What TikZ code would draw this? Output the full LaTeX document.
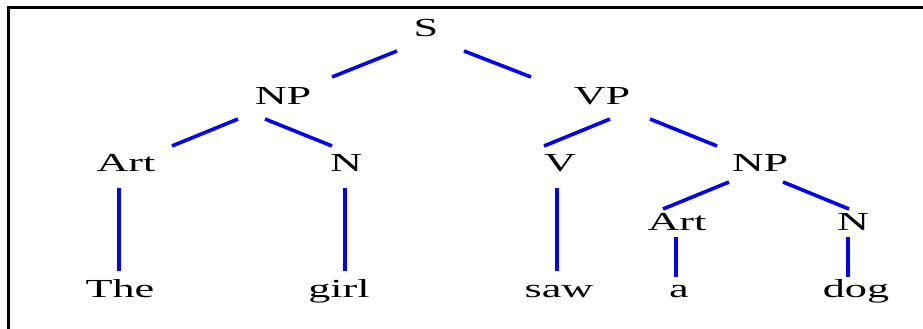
\documentclass[tikz,border=0pt]{standalone}
\usepackage{fontspec}
\setmainfont{Liberation Serif}
\usetikzlibrary{calc}
\tikzset{
  lbl/.style={anchor=base, inner sep=0pt, font=\fontsize{26}{30}\selectfont, text=black},
  edge/.style={draw={rgb,255:red,0;green,0;blue,255}, line width=3.6pt},
  vedge/.style={draw={rgb,255:red,0;green,0;blue,255}, line width=4.2pt},
  frame/.style={draw=black, line width=3pt}
}
\newcommand{\xw}[1]{\scalebox{1.7}[1]{#1}}
\begin{document}
\begin{tikzpicture}[x=1pt,y=1pt]
\useasboundingbox (0,0) rectangle (923,-329);
\fill[white] (0,0) rectangle (923,-329);
\draw[frame] (8,-329) -- (8,-8) -- (923,-8);

\node[lbl] (S)    at (426,-37)  {\xw{S}};
\node[lbl] (NP)   at (283,-104) {\xw{NP}};
\node[lbl] (VP)   at (602,-104) {\xw{VP}};
\node[lbl] (Art)  at (126,-171) {\xw{Art}};
\node[lbl] (N)    at (346,-171) {\xw{N}};
\node[lbl] (V)    at (560,-171) {\xw{V}};
\node[lbl] (NPb)  at (760,-171) {\xw{NP}};
\node[lbl] (Artb) at (677,-230) {\xw{Art}};
\node[lbl] (Nb)   at (853,-230) {\xw{N}};
\node[lbl] (The)  at (120,-297) {\xw{The}};
\node[lbl] (girl) at (339,-297) {\xw{girl}};
\node[lbl] (saw)  at (559,-297) {\xw{saw}};
\node[lbl] (a)    at (679,-297) {\xw{a}};
\node[lbl] (dog)  at (856,-297) {\xw{dog}};

\draw[edge] ($(S.base)+(-29,-14)$) -- ($(NP.base)+(49,27)$);
\draw[edge] ($(S.base)+(38,-14)$) -- ($(VP.base)+(-71,27)$);
\draw[edge] ($(NP.base)+(-45,-15)$) -- ($(Art.base)+(46,25)$);
\draw[edge] ($(NP.base)+(-18,-15)$) -- ($(N.base)+(-14,25)$);
\draw[edge] ($(VP.base)+(8,-15)$) -- ($(V.base)+(-16,25)$);
\draw[edge] ($(VP.base)+(48,-15)$) -- ($(NPb.base)+(-43,25)$);
\draw[edge] ($(NPb.base)+(-31,-11)$) -- ($(Artb.base)+(-14,21)$);
\draw[edge] ($(NPb.base)+(23,-11)$) -- ($(Nb.base)+(-4,21)$);

\draw[vedge] ($(Art.base)+(-7,-17)$) -- ($(The.base)+(-1,26)$);
\draw[vedge] ($(N.base)+(-1,-17)$) -- ($(girl.base)+(6,26)$);
\draw[vedge] ($(V.base)+(-3,-17)$) -- ($(saw.base)+(-2,26)$);
\draw[vedge] ($(Artb.base)+(-1,-7)$) -- ($(a.base)+(-3,20)$);
\draw[vedge] ($(Nb.base)+(-5,-7)$) -- ($(dog.base)+(-8,20)$);
\end{tikzpicture}
\end{document}
